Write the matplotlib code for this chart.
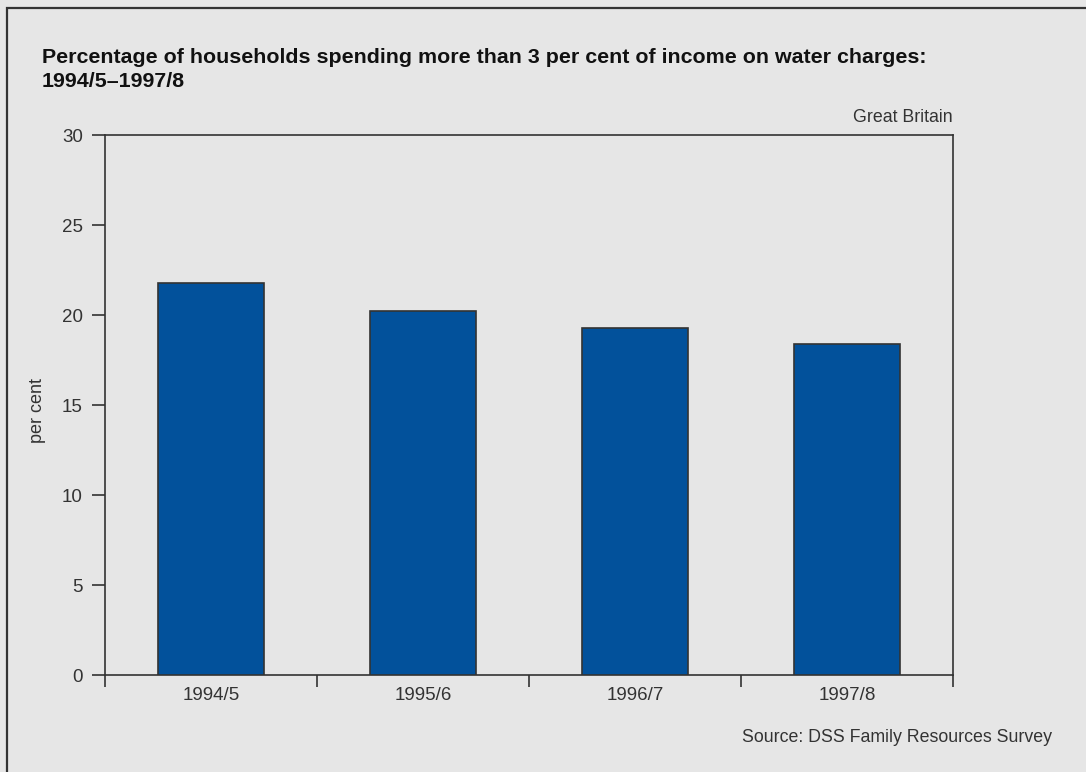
import matplotlib
matplotlib.use("Agg")
import matplotlib.pyplot as plt
from matplotlib.patches import Rectangle

plt.rcParams["font.family"] = ["Liberation Sans", "DejaVu Sans"]

years = ["1994/5", "1995/6", "1996/7", "1997/8"]
pct_households = [21.8, 20.2, 19.3, 18.4]
y_ticks = [0, 5, 10, 15, 20, 25, 30]

BG = "#e6e6e6"
INK = "#333333"
BAR = "#02519b"

fig = plt.figure(figsize=(10.86, 7.72), dpi=100, facecolor=BG)

# frame round the panel (only the top and left edges fall inside the image)
fig.patches.append(Rectangle((7 / 1086, -0.05), 1.2, (772 - 8) / 772 + 0.05,
                             transform=fig.transFigure, fill=False,
                             edgecolor=INK, linewidth=1.6))

ax = fig.add_axes([105 / 1086, 1 - 675 / 772, (953 - 105) / 1086, (675 - 135) / 772])
ax.set_facecolor(BG)

x = range(len(years))
ax.bar(x, pct_households, width=0.5, color=BAR, edgecolor=INK, linewidth=1.2, zorder=3)

ax.set_xlim(-0.5, len(years) - 0.5)
ax.set_ylim(0, 30)
ax.set_yticks(y_ticks)
ax.set_xticks(list(x))
ax.set_xticklabels(years)
ax.set_xticks([i - 0.5 for i in range(len(years) + 1)], minor=True)

ax.tick_params(axis="x", which="major", length=0, pad=9, labelsize=13.5, colors=INK)
ax.tick_params(axis="x", which="minor", length=8.5, width=1.2, color=INK, direction="out")
ax.tick_params(axis="y", length=9.5, width=1.2, color=INK, pad=6.5, labelsize=13.5,
               labelcolor=INK)

for s in ax.spines.values():
    s.set_color(INK)
    s.set_linewidth(1.2)

ax.set_ylabel("per cent", fontsize=13, color=INK)
ax.yaxis.set_label_coords(-0.069, 0.49)

fig.text(42 / 1086, 1 - 48 / 772, "Percentage of households spending more than 3 per cent of income on water charges:\n1994/5\u20131997/8",
         fontsize=15.4, fontweight="bold", color="#111111", va="top", ha="left",
         linespacing=1.32)
fig.text(953 / 1086, 1 - 117 / 772, "Great Britain", fontsize=12.8, color=INK,
         ha="right", va="center")
fig.text(1052 / 1086, 1 - 737 / 772, "Source: DSS Family Resources Survey", fontsize=12.8,
         color=INK, ha="right", va="center")

fig.savefig("out.png", dpi=100, facecolor=BG)
